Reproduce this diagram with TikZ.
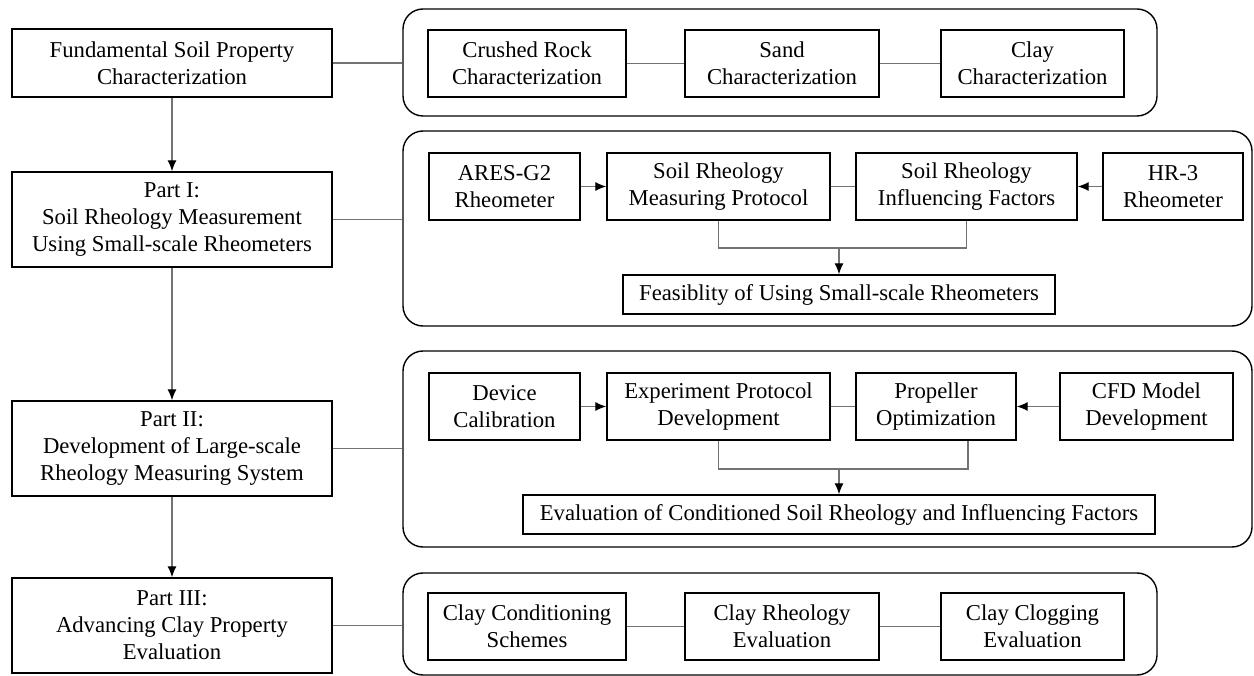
\documentclass[tikz,border=0pt]{standalone}
\usepackage{fontspec}
\setmainfont{Liberation Serif}
\usetikzlibrary{arrows.meta}
\usetikzlibrary{positioning}

\begin{document}
\begin{tikzpicture}[x=1pt, y=-1pt]
    \tikzstyle{box}=[draw, line width=1.4pt, align=center, inner sep=2pt,
      font=\rmfamily\fontsize{22.7}{27}\selectfont, minimum height=67pt]
    \tikzstyle{part}=[box, minimum width=320pt, minimum height=95pt]
    \tikzstyle{group}=[draw, line width=1.4pt, rounded corners=20pt]
    \tikzstyle{link}=[draw=black!55, line width=1.2pt]
    \tikzstyle{arr}=[link, -{Latex[color=black, length=11pt, width=9pt]}]

    \useasboundingbox (0, 0) rectangle (1254, 676);

    % Main parts
    \node[part, minimum height=68pt] (fund) at (172, 63) {Fundamental Soil Property\\Characterization};
    \node[part] (p1) at (172, 219.5) {Part I:\\Soil Rheology Measurement\\Using Small-scale Rheometers};
    \node[part] (p2) at (172, 448.5) {Part II:\\Development of Large-scale\\Rheology Measuring System};
    \node[part] (p3) at (172, 625.5) {Part III:\\Advancing Clay Property\\Evaluation};
    \draw[arr] (fund) -- (p1);
    \draw[arr] (p1) -- (p2);
    \draw[arr] (p2) -- (p3);

    % Groups
    \node[group, minimum width=754pt, minimum height=107pt] (g1) at (780, 62.5) {};
    \node[group, minimum width=849pt, minimum height=195pt] (g2) at (827.5, 228.5) {};
    \node[group, minimum width=849pt, minimum height=196pt] (g3) at (827.5, 449) {};
    \node[group, minimum width=754pt, minimum height=102pt] (g4) at (780, 624) {};
    \draw[link] (fund.east) -- (fund.east -| g1.west);
    \draw[link] (p1.east) -- (p1.east -| g2.west);
    \draw[link] (p2.east) -- (p2.east -| g3.west);
    \draw[link] (p3.east) -- (p3.east -| g4.west);

    % Characterization
    \node[box, minimum width=198pt] (rock) at (527, 63.5) {Crushed Rock\\Characterization};
    \node[box, minimum width=194pt] (sand) at (782, 63.5) {Sand\\Characterization};
    \node[box, minimum width=183pt] (clay) at (1032.5, 63.5) {Clay\\Characterization};
    \draw[link] (rock) -- (sand);
    \draw[link] (sand) -- (clay);

    % Small-scale rheometers
    \node[box, minimum width=151pt] (ares) at (504.5, 186.5) {ARES-G2\\Rheometer};
    \node[box, minimum width=223pt] (proto) at (718.5, 186.5) {Soil Rheology\\Measuring Protocol};
    \node[box, minimum width=221pt] (factor) at (966.5, 186.5) {Soil Rheology\\Influencing Factors};
    \node[box, minimum width=140pt] (hr) at (1173, 186.5) {HR-3\\Rheometer};
    \node[box, minimum width=432pt, minimum height=39pt] (feas) at (839, 294.5) {Feasiblity of Using Small-scale Rheometers};
    \coordinate (m1) at (839, 248);
    \draw[arr] (ares) -- (proto);
    \draw[link] (proto) -- (factor);
    \draw[arr] (hr) -- (factor);
    \draw[link] (proto.south) |- (m1) -| (factor.south);
    \draw[arr] (m1) -- (feas);

    % Large-scale system
    \node[box, minimum width=151pt] (calib) at (504.5, 406.5) {Device\\Calibration};
    \node[box, minimum width=223pt] (exper) at (718.5, 406.5) {Experiment Protocol\\Development};
    \node[box, minimum width=160pt] (prop) at (936, 406.5) {Propeller\\Optimization};
    \node[box, minimum width=173pt] (cfd) at (1146.5, 406.5) {CFD Model\\Development};
    \node[box, minimum width=632pt, minimum height=39pt] (evalc) at (839, 514.5) {Evaluation of Conditioned Soil Rheology and Influencing Factors};
    \coordinate (m2) at (839, 469);
    \draw[arr] (calib) -- (exper);
    \draw[link] (exper) -- (prop);
    \draw[arr] (cfd) -- (prop);
    \draw[link] (exper.south) |- (m2) -| ([xshift=32pt]prop.south);
    \draw[arr] (m2) -- (evalc);

    % Clay
    \node[box, minimum width=198pt] (cond) at (527, 626.5) {Clay Conditioning\\Schemes};
    \node[box, minimum width=194pt] (crheo) at (782, 626.5) {Clay Rheology\\Evaluation};
    \node[box, minimum width=183pt] (clog) at (1032.5, 626.5) {Clay Clogging\\Evaluation};
    \draw[link] (cond) -- (crheo);
    \draw[link] (crheo) -- (clog);
  \end{tikzpicture}
\end{document}
